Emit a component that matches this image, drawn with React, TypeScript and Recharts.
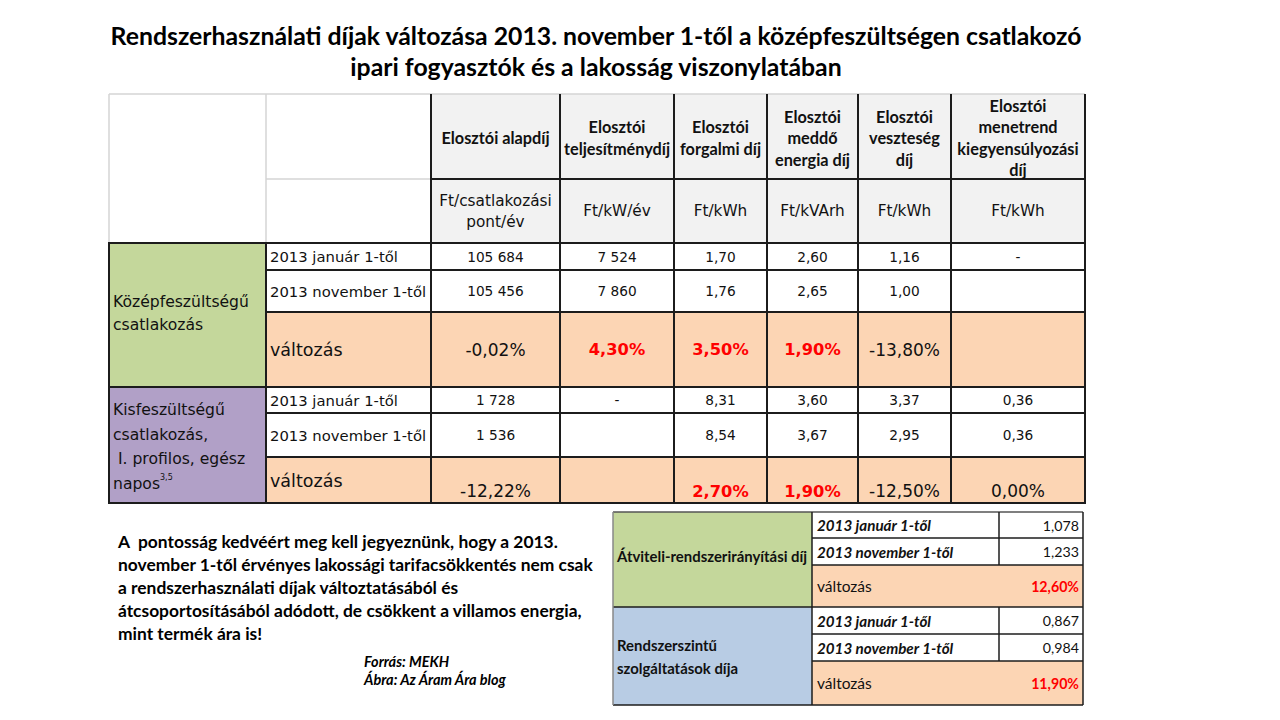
import React from "react";
import { Surface, Layer } from "recharts";

// ---------- DATA ----------
const titleLines = [
  "Rendszerhasználati díjak változása 2013. november 1-től a középfeszültségen csatlakozó",
  "ipari fogyasztók és a lakosság viszonylatában",
];
const columnHeaders = [
  ["Elosztói alapdíj"],
  ["Elosztói", "teljesítménydíj"],
  ["Elosztói", "forgalmi díj"],
  ["Elosztói", "meddő", "energia díj"],
  ["Elosztói", "veszteség", "díj"],
  ["Elosztói", "menetrend", "kiegyensúlyozási", "díj"],
];
const units = [["Ft/csatlakozási", "pont/év"], ["Ft/kW/év"], ["Ft/kWh"], ["Ft/kVArh"], ["Ft/kWh"], ["Ft/kWh"]];
const periods = ["2013 január 1-től", "2013 november 1-től", "változás"];
const groupMedium = ["Középfeszültségű", "csatlakozás"];
const groupLow = ["Kisfeszültségű", "csatlakozás,", " I. profilos, egész", "napos"];
const groupLowNote = "3,5";
const mediumJan = ["105 684", "7 524", "1,70", "2,60", "1,16", "-"];
const mediumNov = ["105 456", "7 860", "1,76", "2,65", "1,00", ""];
const mediumChange = ["-0,02%", "4,30%", "3,50%", "1,90%", "-13,80%", ""];
const lowJan = ["1 728", "-", "8,31", "3,60", "3,37", "0,36"];
const lowNov = ["1 536", "", "8,54", "3,67", "2,95", "0,36"];
const lowChange = ["-12,22%", "", "2,70%", "1,90%", "-12,50%", "0,00%"];

const noteLines = [
  "A  pontosság kedvéért meg kell jegyeznünk, hogy a 2013.",
  "november 1-től érvényes lakossági tarifacsökkentés nem csak",
  "a rendszerhasználati díjak változtatásából és",
  "átcsoportosításából adódott, de csökkent a villamos energia,",
  "mint termék ára is!",
];
const sourceLines = ["Forrás: MEKH", "Ábra: Az Áram Ára blog"];

const transmissionLabel = ["Átviteli-rendszerirányítási díj"];
const transmissionValues = ["1,078", "1,233", "12,60%"];
const ancillaryLabel = ["Rendszerszintű", "szolgáltatások díja"];
const ancillaryValues = ["0,867", "0,984", "11,90%"];

// ---------- LAYOUT / STYLE ----------
const X = [109, 266, 431, 560, 674, 767, 858, 951, 1085];
const Y = [94, 179, 243, 270, 312, 387, 413, 457, 503];
const LX = [613, 812, 999, 1083];
const LY = [512, 538, 565, 607, 634, 661, 705];

const CAL = "Lato, 'Open Sans', sans-serif";
const VER = "'DejaVu Sans', Verdana, sans-serif";
const DARK = "#1c1c1c";
const LIGHT = "#d4d4d4";
const GREEN = "#c4d79b";
const PURPLE = "#b1a0c7";
const PEACH = "#fcd5b4";
const BLUE = "#b8cce4";
const GREY = "#f2f2f2";
const RED = "#ff0000";

const isPositive = (v: string) => {
  const n = parseFloat(v.replace("%", "").replace(",", "."));
  return !isNaN(n) && n > 0;
};

const Line = ({ x1, y1, x2, y2, c = DARK, w = 2 }: any) => (
  <line x1={x1} y1={y1} x2={x2} y2={y2} stroke={c} strokeWidth={w} />
);

const Box = ({ x1, y1, x2, y2, fill }: any) => (
  <rect x={x1} y={y1} width={x2 - x1} height={y2 - y1} fill={fill} />
);

const Lines = ({ lines, x, cy, gap, anchor = "middle", sup, supSize = 8, ...rest }: any) => (
  <>
    {lines.map((t: string, i: number) => (
      <text
        key={i}
        x={x}
        y={cy + (i - (lines.length - 1) / 2) * gap}
        textAnchor={anchor}
        dominantBaseline="central"
        style={{ whiteSpace: "pre" }}
        {...rest}
      >
        {t}
        {sup && i === lines.length - 1 ? (
          <tspan fontSize={supSize} dy={-7}>
            {sup}
          </tspan>
        ) : null}
      </text>
    ))}
  </>
);

const MainTable = () => {
  const bodyRows = [
    { label: periods[0], vals: mediumJan, y1: Y[2], y2: Y[3], change: false, low: false },
    { label: periods[1], vals: mediumNov, y1: Y[3], y2: Y[4], change: false, low: false },
    { label: periods[2], vals: mediumChange, y1: Y[4], y2: Y[5], change: true, low: false },
    { label: periods[0], vals: lowJan, y1: Y[5], y2: Y[6], change: false, low: false },
    { label: periods[1], vals: lowNov, y1: Y[6], y2: Y[7], change: false, low: false },
    { label: periods[2], vals: lowChange, y1: Y[7], y2: Y[8], change: true, low: true },
  ];
  return (
    <Layer>
      {/* backgrounds */}
      <Box x1={X[2]} y1={Y[0]} x2={X[8]} y2={Y[2]} fill={GREY} />
      <Box x1={X[0]} y1={Y[2]} x2={X[1]} y2={Y[5]} fill={GREEN} />
      <Box x1={X[0]} y1={Y[5]} x2={X[1]} y2={Y[8]} fill={PURPLE} />
      <Box x1={X[1]} y1={Y[4]} x2={X[8]} y2={Y[5]} fill={PEACH} />
      <Box x1={X[1]} y1={Y[7]} x2={X[8]} y2={Y[8]} fill={PEACH} />
      {/* light header lines */}
      <Line x1={X[0]} y1={Y[0]} x2={X[8]} y2={Y[0]} c={LIGHT} w={1.5} />
      <Line x1={X[0]} y1={Y[0]} x2={X[0]} y2={Y[2]} c={LIGHT} w={1.5} />
      <Line x1={X[1]} y1={Y[0]} x2={X[1]} y2={Y[2]} c={LIGHT} w={1.5} />
      <Line x1={X[1]} y1={Y[1]} x2={X[2]} y2={Y[1]} c={LIGHT} w={1.5} />
      {/* dark lines */}
      {X.slice(2).map((x, i) => (
        <Line key={"v" + i} x1={x} y1={Y[0]} x2={x} y2={Y[8]} />
      ))}
      <Line x1={X[0]} y1={Y[2]} x2={X[0]} y2={Y[8]} />
      <Line x1={X[1]} y1={Y[2]} x2={X[1]} y2={Y[8]} />
      <Line x1={X[2]} y1={Y[1]} x2={X[8]} y2={Y[1]} />
      {[2, 5, 8].map((r) => (
        <Line key={"hf" + r} x1={X[0] - 1} y1={Y[r]} x2={X[8] + 1} y2={Y[r]} />
      ))}
      {[3, 4, 6, 7].map((r) => (
        <Line key={"hp" + r} x1={X[1]} y1={Y[r]} x2={X[8]} y2={Y[r]} />
      ))}
      {/* headers */}
      {columnHeaders.map((h, i) => (
        <Lines
          key={"h" + i}
          lines={h}
          x={(X[i + 2] + X[i + 3]) / 2}
          cy={(Y[0] + Y[1]) / 2 + 1}
          gap={21.5}
          fontFamily={CAL}
          fontWeight={700}
          fontSize={16.3}
          fill="#111"
        />
      ))}
      {units.map((u, i) => (
        <Lines
          key={"u" + i}
          lines={u}
          x={(X[i + 2] + X[i + 3]) / 2}
          cy={(Y[1] + Y[2]) / 2}
          gap={21}
          fontFamily={VER}
          fontSize={15.3}
          fill="#111"
        />
      ))}
      {/* group labels */}
      <Lines lines={groupMedium} x={X[0] + 4} cy={313} gap={23} anchor="start" fontFamily={VER} fontSize={15.6} fill="#111" />
      <Lines
        lines={groupLow}
        x={X[0] + 4}
        cy={447}
        gap={24.5}
        anchor="start"
        fontFamily={VER}
        fontSize={15.6}
        fill="#111"
        sup={groupLowNote}
        supSize={8}
      />
      {/* body rows */}
      {bodyRows.map((r, ri) => (
        <g key={"r" + ri}>
          <text
            x={X[1] + 4}
            y={r.low ? 481 : (r.y1 + r.y2) / 2}
            dominantBaseline="central"
            fontFamily={VER}
            fontSize={r.change ? 17.5 : 14.8}
            fill="#111"
          >
            {r.label}
          </text>
          {r.vals.map((v, ci) => {
            const red = r.change && isPositive(v);
            return (
              <text
                key={ci}
                x={(X[ci + 2] + X[ci + 3]) / 2}
                y={r.low ? 491 : (r.y1 + r.y2) / 2}
                textAnchor="middle"
                dominantBaseline="central"
                fontFamily={VER}
                fontSize={r.change ? (red ? 16.3 : 17) : 13.7}
                fontWeight={red ? 700 : 400}
                fill={red ? RED : "#111"}
              >
                {v}
              </text>
            );
          })}
        </g>
      ))}
    </Layer>
  );
};

const SmallTable = () => {
  const blocks = [
    { label: transmissionLabel, vals: transmissionValues, fill: GREEN, r: 0 },
    { label: ancillaryLabel, vals: ancillaryValues, fill: BLUE, r: 3 },
  ];
  return (
    <Layer>
      {blocks.map((b, bi) => (
        <g key={bi}>
          <Box x1={LX[0]} y1={LY[b.r]} x2={LX[1]} y2={LY[b.r + 3]} fill={b.fill} />
          <Box x1={LX[1]} y1={LY[b.r + 2]} x2={LX[3]} y2={LY[b.r + 3]} fill={PEACH} />
        </g>
      ))}
      <Line x1={LX[0]} y1={LY[0]} x2={LX[3]} y2={LY[0]} c="#555" w={1.5} />
      <Line x1={LX[0]} y1={LY[3]} x2={LX[3]} y2={LY[3]} w={1.5} />
      <Line x1={LX[0]} y1={LY[6]} x2={LX[3]} y2={LY[6]} w={1.5} />
      {[1, 2, 4, 5].map((r) => (
        <Line key={r} x1={LX[1]} y1={LY[r]} x2={LX[3]} y2={LY[r]} w={1.5} />
      ))}
      <Line x1={LX[0]} y1={LY[0]} x2={LX[0]} y2={LY[6]} c="#888" w={1.5} />
      <Line x1={LX[1]} y1={LY[0]} x2={LX[1]} y2={LY[6]} w={1.5} />
      <Line x1={LX[3]} y1={LY[0]} x2={LX[3]} y2={LY[6]} w={1.5} />
      <Line x1={LX[2]} y1={LY[0]} x2={LX[2]} y2={LY[2]} w={1.5} />
      <Line x1={LX[2]} y1={LY[3]} x2={LX[2]} y2={LY[5]} w={1.5} />
      {blocks.map((b, bi) => (
        <g key={"t" + bi}>
          <Lines
            lines={b.label}
            x={LX[0] + 4}
            cy={(LY[b.r] + LY[b.r + 3]) / 2 + (bi === 0 ? -4 : 0)}
            gap={23}
            anchor="start"
            fontFamily={CAL}
            fontWeight={700}
            fontSize={14.9}
            fill="#111"
          />
          {periods.map((p, pi) => {
            const y = (LY[b.r + pi] + LY[b.r + pi + 1]) / 2;
            const v = b.vals[pi];
            const change = pi === 2;
            const red = change && isPositive(v);
            return (
              <g key={pi}>
                <text
                  x={LX[1] + 5}
                  y={y}
                  dominantBaseline="central"
                  fontFamily={CAL}
                  fontWeight={change ? 400 : 700}
                  fontStyle={change ? "normal" : "italic"}
                  fontSize={change ? 15.5 : 15.2}
                  fill="#111"
                >
                  {p}
                </text>
                <text
                  x={LX[3] - 4}
                  y={y}
                  textAnchor="end"
                  dominantBaseline="central"
                  fontFamily={CAL}
                  fontWeight={red ? 700 : 400}
                  fontSize={14.2}
                  fill={red ? RED : "#111"}
                >
                  {v}
                </text>
              </g>
            );
          })}
        </g>
      ))}
    </Layer>
  );
};

export default function App() {
  return (
    <div style={{ position: "absolute", left: 0, top: 0, width: 1280, height: 720, background: "#fff" }}>
      <Surface width={1280} height={720} viewBox={{ x: 0, y: 0, width: 1280, height: 720 }}>
        <rect x={0} y={0} width={1280} height={720} fill="#fff" />
        {titleLines.map((t, i) => (
          <text
            key={i}
            x={596}
            y={35 + i * 31}
            textAnchor="middle"
            dominantBaseline="central"
            fontFamily={CAL}
            fontWeight={700}
            fontSize={24.8}
            fill="#000"
          >
            {t}
          </text>
        ))}
        <MainTable />
        <SmallTable />
        {noteLines.map((t, i) => (
          <text
            key={i}
            x={118}
            y={541 + i * 23}
            dominantBaseline="central"
            fontFamily={CAL}
            fontWeight={700}
            fontSize={17.4}
            fill="#000"
            style={{ whiteSpace: "pre" }}
          >
            {t}
          </text>
        ))}
        {sourceLines.map((t, i) => (
          <text
            key={i}
            x={364}
            y={661 + i * 18}
            dominantBaseline="central"
            fontFamily={CAL}
            fontWeight={700}
            fontStyle="italic"
            fontSize={14.5}
            fill="#000"
          >
            {t}
          </text>
        ))}
      </Surface>
    </div>
  );
}
